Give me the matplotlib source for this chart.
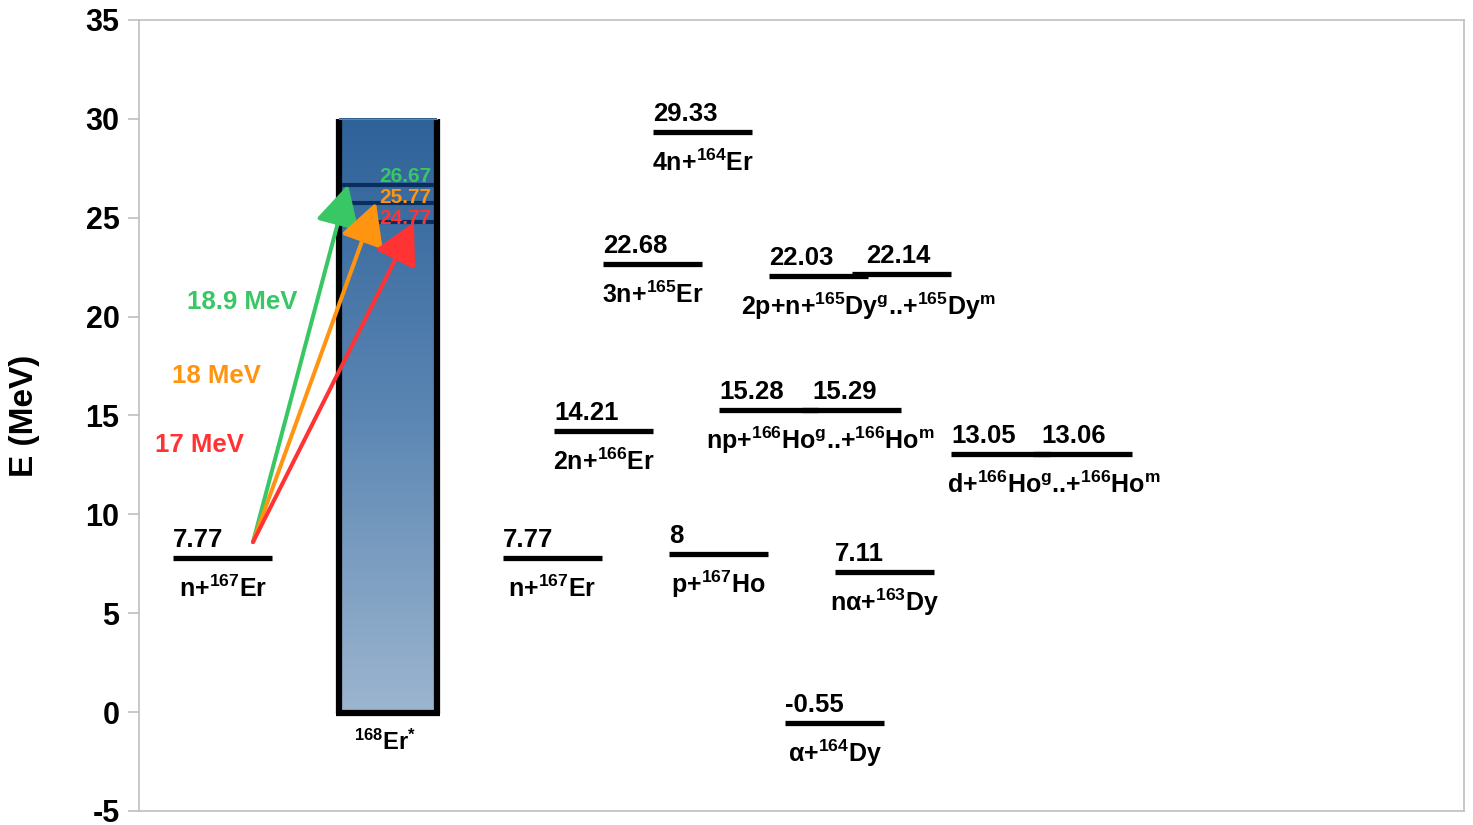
import numpy as np
import matplotlib
matplotlib.use("Agg")
import matplotlib.pyplot as plt
from matplotlib.colors import LinearSegmentedColormap
from matplotlib.patches import FancyArrowPatch

plt.rcParams['font.family'] = ['Liberation Sans', 'DejaVu Sans']
plt.rcParams['font.weight'] = 'bold'
plt.rcParams['mathtext.fontset'] = 'custom'
plt.rcParams['mathtext.rm'] = 'Liberation Sans:bold'
plt.rcParams['mathtext.it'] = 'Liberation Sans:bold'
plt.rcParams['mathtext.bf'] = 'Liberation Sans:bold'
plt.rcParams['mathtext.sf'] = 'Liberation Sans:bold'

# ---------------- data ----------------
entrance_energy = 7.77
entrance_label = 'n+$^{167}$Er'
compound_label = '$^{168}$Er$^{*}$'
compound_top = 30.0
excitation_levels = [26.67, 25.77, 24.77]
beam_labels = ['18.9 MeV', '18 MeV', '17 MeV']
beam_colors = ['#38C764', '#FF9410', '#FF3333']

channel_labels = ['n+$^{167}$Er', 'p+$^{167}$Ho', 'nα+$^{163}$Dy', 'α+$^{164}$Dy',
                  '2n+$^{166}$Er', '3n+$^{165}$Er', '4n+$^{164}$Er',
                  '2p+n+$^{165}$Dy$^{g}$..+$^{165}$Dy$^{m}$',
                  'np+$^{166}$Ho$^{g}$..+$^{166}$Ho$^{m}$',
                  'd+$^{166}$Ho$^{g}$..+$^{166}$Ho$^{m}$']
channel_energies = [7.77, 8.0, 7.11, -0.55, 14.21, 22.68, 29.33, 22.03, 15.28, 13.05]
channel_value_text = ['7.77', '8', '7.11', '-0.55', '14.21', '22.68', '29.33', '22.03', '15.28', '13.05']
isomer_energies = [None, None, None, None, None, None, None, 22.14, 15.29, 13.06]
isomer_value_text = [None, None, None, None, None, None, None, '22.14', '15.29', '13.06']

yticks = [-5, 0, 5, 10, 15, 20, 25, 30, 35]

# ---------------- layout ----------------
W, H = 1473, 825
fig = plt.figure(figsize=(W / 100, H / 100), dpi=100)
ax = fig.add_axes([139 / W, 1 - 811 / H, (1464 - 139) / W, (811 - 20) / H])
ax.set_xlim(139, 1464)
ax.set_ylim(-5, 35)

LW = 99
lvl_lw = 3.8
grey = '#BFBFBF'
FS = 18.5
FS_LAB = 18

entrance_x = 173
channel_x = [503, 669, 835, 785, 554, 603, 653, 769, 719, 951]
isomer_x = [None] * 7 + [852, 802, 1033]
isomer_txt_dx = [None] * 7 + [14, 10, 8]
label_dx = [0, 0, 0, 0, 0, 0, 0, 8, 10, 12]


def px_offset(dy_px):
    return dy_px * 72 / 100.0


def level(x0, e, vtxt, lab=None, lab_cx=None):
    ax.plot([x0, x0 + LW], [e, e], color='black', lw=lvl_lw, solid_capstyle='butt', zorder=3)
    ax.annotate(vtxt, (x0, e), xytext=(0, px_offset(11)), textcoords='offset points',
                ha='left', va='baseline', fontsize=FS, fontweight='bold', zorder=4)
    if lab is not None:
        ax.annotate(lab, (lab_cx, e), xytext=(0, -px_offset(39)), textcoords='offset points',
                    ha='center', va='baseline', fontsize=FS_LAB, fontweight='bold', zorder=4)


# entrance channel
level(entrance_x, entrance_energy, '7.77', entrance_label, entrance_x + LW / 2 + 1)

# exit channels
for i, e in enumerate(channel_energies):
    x0 = channel_x[i]
    if isomer_energies[i] is not None:
        xi = isomer_x[i]
        ax.plot([xi, xi + LW], [isomer_energies[i]] * 2, color='black', lw=lvl_lw,
                solid_capstyle='butt', zorder=3)
        ax.annotate(isomer_value_text[i], (xi + isomer_txt_dx[i], isomer_energies[i]),
                    xytext=(0, px_offset(11)), textcoords='offset points',
                    ha='left', va='baseline', fontsize=FS, fontweight='bold', zorder=4)
        cx = (x0 + xi + LW) / 2 + label_dx[i]
    else:
        cx = x0 + LW / 2
    level(x0, e, channel_value_text[i], channel_labels[i], cx)

# compound nucleus box
bx0, bx1 = 339, 437
cmap = LinearSegmentedColormap.from_list('box', ['#9CB5CF', '#5B86B3', '#2E6299'])
grad = np.linspace(0, 1, 256).reshape(-1, 1)
ax.imshow(grad, extent=[bx0, bx1, 0, compound_top], origin='lower', cmap=cmap,
          aspect='auto', zorder=1, interpolation='bicubic')
ax.plot([bx0, bx0], [-0.1, compound_top], color='black', lw=4.5, zorder=2, solid_capstyle='butt')
ax.plot([bx1, bx1], [-0.1, compound_top], color='black', lw=4.5, zorder=2, solid_capstyle='butt')
ax.plot([bx0 - 3, bx1 + 3], [-0.05, -0.05], color='black', lw=4.5, zorder=2, solid_capstyle='butt')
ax.plot([bx0, bx1], [compound_top, compound_top], color='#7F7F7F', lw=0.8, zorder=2)
ax.set_xlim(139, 1464)
ax.set_ylim(-5, 35)

box_txt_dy = [3, 0, -2]
for e, c, dy in zip(excitation_levels, beam_colors, box_txt_dy):
    ax.plot([bx0 + 3, bx1 - 3], [e, e], color='#0A2F5E', lw=3, zorder=2.5, solid_capstyle='butt')
    ax.annotate(f'{e:.2f}', (bx1 - 6, e), xytext=(0, px_offset(dy)), textcoords='offset points',
                ha='right', va='baseline', fontsize=15, fontweight='bold', color=c, zorder=4)

ax.text((bx0 + bx1) / 2 - 3, -1.9, compound_label, ha='center', va='baseline',
        fontsize=17, fontweight='bold')

# beam arrows
start = (253, 8.6)
tip_x = [348, 376, 414]
for e, tx, c in zip(excitation_levels, tip_x, beam_colors):
    arr = FancyArrowPatch(start, (tx, e), arrowstyle='-|>,head_length=1.5,head_width=0.8',
                          mutation_scale=17, color=c, lw=2.9, shrinkA=0, shrinkB=0, zorder=5)
    ax.add_patch(arr)

beam_lab_x = [187, 172, 155]
beam_lab_y = [20.38, 16.64, 13.15]
for t, c, x, y in zip(beam_labels, beam_colors, beam_lab_x, beam_lab_y):
    ax.text(x, y, t, color=c, fontsize=FS, fontweight='bold', ha='left', va='baseline')

# axes styling
for s in ax.spines.values():
    s.set_color(grey)
    s.set_linewidth(1.2)
ax.set_xticks([])
ax.set_yticks(yticks)
ax.set_yticklabels([str(v) for v in yticks], fontsize=22, fontweight='bold')
ax.tick_params(axis='y', length=8, color=grey, width=1.2, pad=6)

fig.text(25 / W, 1 - 416 / H, 'E (MeV)', rotation=90, ha='center', va='center',
         fontsize=24, fontweight='bold')

fig.savefig('out.png', dpi=100)
